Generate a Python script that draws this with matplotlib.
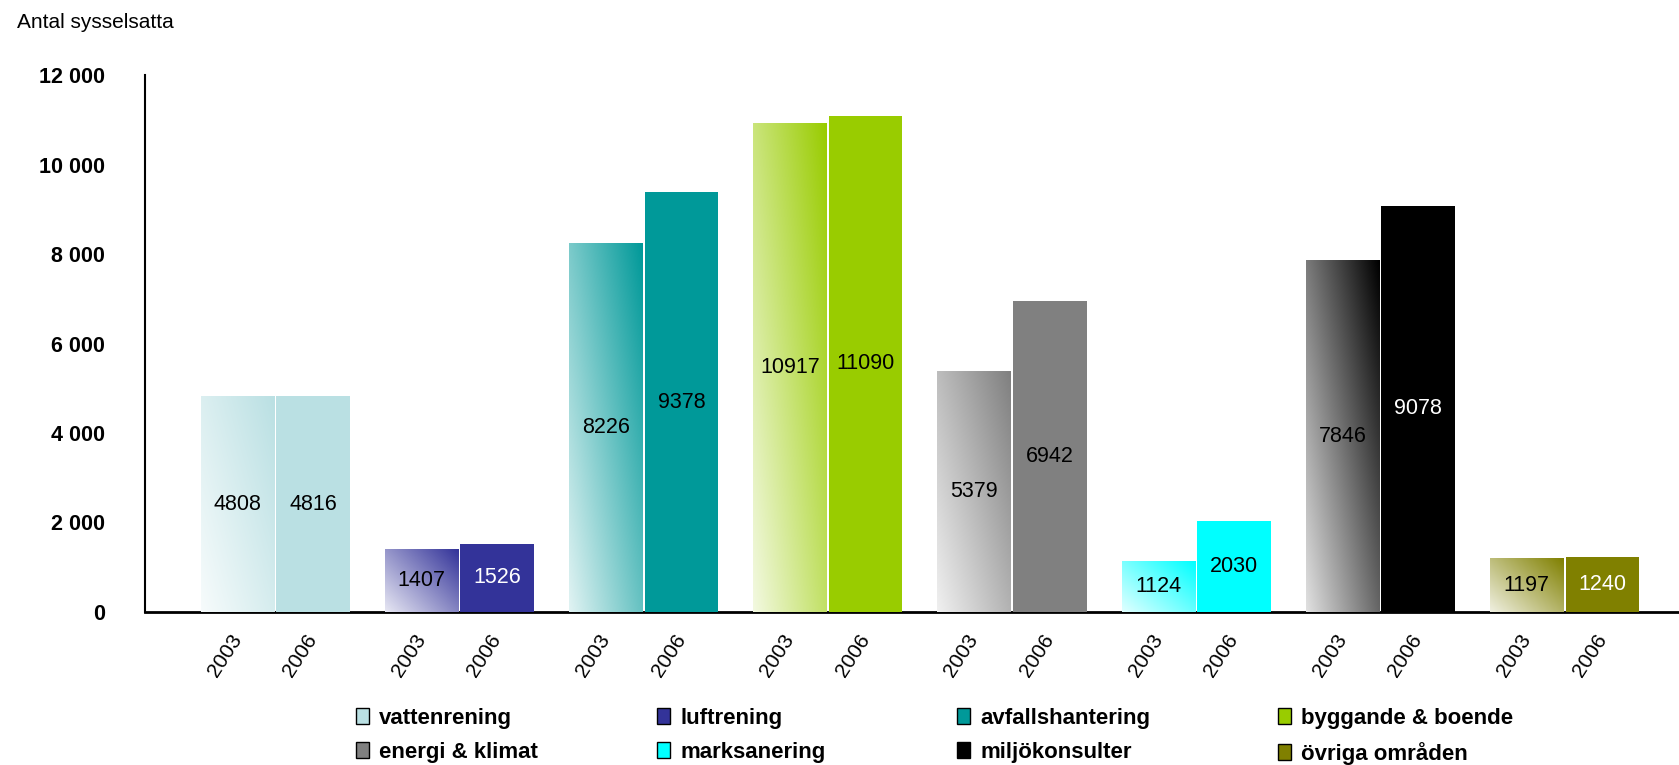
import matplotlib
matplotlib.use('Agg')
import matplotlib.pyplot as plt
import numpy as np
from matplotlib.patches import Patch
from matplotlib.colors import to_rgb
from matplotlib.ticker import FuncFormatter

plt.rcParams['font.family'] = ['Liberation Sans', 'DejaVu Sans']

# ---------------- data ----------------
categories = ['vattenrening', 'luftrening', 'avfallshantering', 'byggande & boende',
              'energi & klimat', 'marksanering', 'miljökonsulter', 'övriga områden']
years = ['2003', '2006']
values_2003 = [4808, 1407, 8226, 10917, 5379, 1124, 7846, 1197]
values_2006 = [4816, 1526, 9378, 11090, 6942, 2030, 9078, 1240]
y_ticks = [0, 2000, 4000, 6000, 8000, 10000, 12000]
y_title = 'Antal sysselsatta'

# ---------------- style ----------------
colors = ['#BAE0E3', '#333399', '#009999', '#99CC00',
          '#808080', '#00FFFF', '#000000', '#808000']
label_colors_2006 = ['black', 'white', 'black', 'black', 'black', 'black', 'white', 'white']

W, H = 1679, 765
fig = plt.figure(figsize=(W / 100, H / 100), dpi=100)
ax = fig.add_axes([145 / W, 153 / H, (W - 145) / W, 537 / H])

x = np.arange(len(categories))
w = 0.40
off = 0.205

b03 = ax.bar(x - off, values_2003, w, color='none', linewidth=0, zorder=2)
b06 = ax.bar(x + off, values_2006, w, color=colors, linewidth=0, zorder=2)

# gradient fill for 2003 bars (light bottom-left -> full colour top-right)
for patch, c in zip(b03.patches, colors):
    x0 = patch.get_x()
    x1 = x0 + patch.get_width()
    h = patch.get_height()
    rgb = np.array(to_rgb(c))
    u = np.linspace(0, 1, 80)[None, :]
    v = np.linspace(0, 1, 80)[:, None]
    t = np.clip(0.55 * u + 0.45 * v, 0, 1)
    f = 0.12 + 0.88 * t
    img = 1 - f[..., None] * (1 - rgb[None, None, :])
    ax.imshow(img, extent=(x0, x1, 0, h), origin='lower', aspect='auto',
              interpolation='bilinear', zorder=2)

# value labels
for patch, v in zip(b03.patches, values_2003):
    ax.text(patch.get_x() + patch.get_width() / 2, v / 2, str(v),
            ha='center', va='center', fontsize=15.5, color='black', zorder=4)
for patch, v, lc in zip(b06.patches, values_2006, label_colors_2006):
    ax.text(patch.get_x() + patch.get_width() / 2, v / 2, str(v),
            ha='center', va='center', fontsize=15.5, color=lc, zorder=4)

ax.set_xlim(-0.707, 7.621)
ax.set_ylim(0, 12000)
ax.set_yticks(y_ticks)
ax.yaxis.set_major_formatter(FuncFormatter(lambda v, p: f'{int(v):,}'.replace(',', ' ')))
for lab in ax.get_yticklabels():
    lab.set_fontweight('bold')
ax.tick_params(axis='y', length=0, pad=29, labelsize=15.5)

xt = np.concatenate([x - off, x + off])
xl = [years[0]] * len(x) + [years[1]] * len(x)
ax.set_xticks(xt)
ax.set_xticklabels(xl, rotation=57, ha='right', va='center', rotation_mode='anchor')
ax.tick_params(axis='x', length=0, pad=17, labelsize=15)

for s in ['top', 'right']:
    ax.spines[s].set_visible(False)
ax.spines['left'].set_linewidth(1.5)
ax.spines['bottom'].set_linewidth(2)
ax.spines['bottom'].set_zorder(1)

fig.text(17 / W, 1 - 22 / H, y_title, va='center', ha='left', fontsize=15)

# legend in 4 columns
col_x = [356, 657, 957, 1278]
for i, cx in enumerate(col_x):
    idx = [i, i + 4]
    handles = [Patch(facecolor=colors[j], edgecolor='black', linewidth=1) for j in idx]
    labels = [categories[j] for j in idx]
    leg = fig.legend(handles, labels, loc='upper left',
                     bbox_to_anchor=(cx / W, 1 - 708 / H),
                     frameon=False, borderpad=0, borderaxespad=0,
                     handlelength=0.6, handleheight=0.7, handletextpad=0.45,
                     labelspacing=0.58, prop={'weight': 'bold', 'size': 16})

fig.savefig('out.png', dpi=100)
